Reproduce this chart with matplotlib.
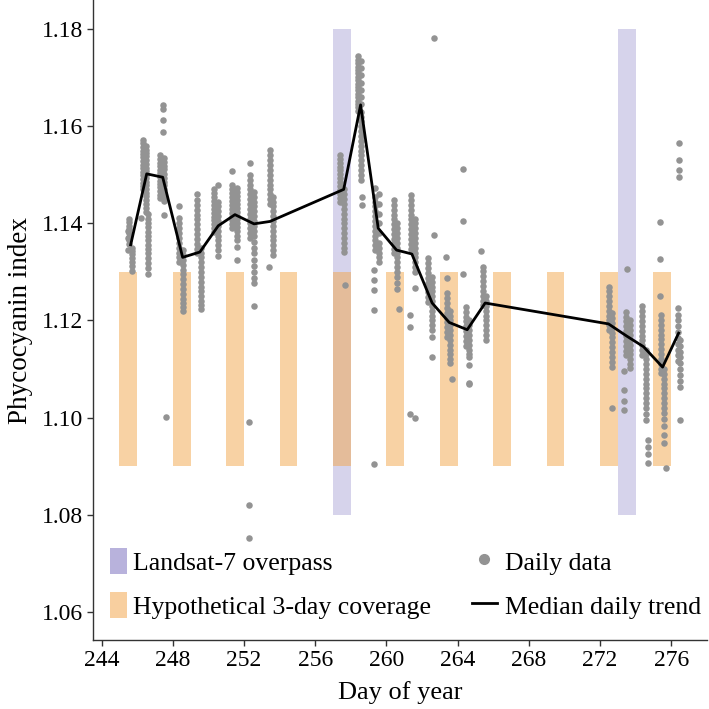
import matplotlib

matplotlib.use("Agg")

import matplotlib.pyplot as plt
from matplotlib.lines import Line2D
from matplotlib.patches import Patch

# median daily trend (day of year, phycocyanin index)
median_doy = [245.63, 246.53, 247.43, 248.55, 249.52, 250.55, 251.49, 252.56, 253.46,
              257.6, 258.55, 259.54, 260.57, 261.43, 262.57, 263.53, 264.54, 265.55,
              272.48, 273.5, 274.45, 275.52, 276.42]
median_pci = [1.1356, 1.1502, 1.1495, 1.1330, 1.1341, 1.1395, 1.1418, 1.1399, 1.1404,
              1.1470, 1.1644, 1.1390, 1.1345, 1.1337, 1.1236, 1.1196, 1.1181, 1.1236,
              1.1193, 1.1168, 1.1146, 1.1104, 1.1174]

# satellite coverage windows (start day, 1 day wide)
landsat_days = [257, 273]
landsat_range = (1.08, 1.18)
coverage_days = [245, 248, 251, 254, 257, 260, 263, 266, 269, 272, 275]
coverage_range = (1.09, 1.13)

# daily observations, grouped by day as (doy, [values])
day_245 = [
    (245.55, [1.1410, 1.1402, 1.1395, 1.1388, 1.1380, 1.1372, 1.1365, 1.1357]),
    (245.68, [1.1350, 1.1343, 1.1336, 1.1328, 1.1320, 1.1312, 1.1302]),
    (245.5, [1.1385, 1.1370, 1.1345]),
]
day_246 = [
    (246.3, [1.1572, 1.1565, 1.1558, 1.1550, 1.1543, 1.1536, 1.1528, 1.1521, 1.1514,
             1.1506, 1.1499, 1.1492, 1.1484, 1.1477, 1.1470]),
    (246.48, [1.1560, 1.1552, 1.1545, 1.1538, 1.1530, 1.1522, 1.1515, 1.1508, 1.1500,
              1.1493, 1.1486, 1.1478, 1.1470, 1.1463, 1.1456, 1.1448, 1.1440, 1.1432, 1.1424]),
    (246.6, [1.1420, 1.1410, 1.1400, 1.1392, 1.1383, 1.1374, 1.1365, 1.1356, 1.1347,
             1.1338, 1.1328, 1.1318, 1.1308, 1.1296]),
    (246.2, [1.1411]),
]
day_247 = [
    (247.42, [1.1644, 1.1636, 1.1613, 1.1589]),
    (247.3, [1.1540, 1.1532, 1.1525, 1.1518, 1.1510, 1.1503, 1.1496, 1.1488, 1.1481,
             1.1474, 1.1466, 1.1459, 1.1452]),
    (247.5, [1.1535, 1.1527, 1.1519, 1.1511, 1.1502, 1.1494, 1.1486, 1.1478, 1.1470,
             1.1462, 1.1455, 1.1447, 1.1418]),
    (247.6, [1.1002]),
]
day_248 = [
    (248.32, [1.1435, 1.1412, 1.1400, 1.1390, 1.1380, 1.1370, 1.1360, 1.1350, 1.1340,
              1.1330, 1.1320]),
    (248.55, [1.1345, 1.1335, 1.1325, 1.1315, 1.1305, 1.1295, 1.1285, 1.1275, 1.1265,
              1.1255, 1.1245, 1.1235, 1.1228, 1.1220]),
]
day_249 = [
    (249.38, [1.1460, 1.1448, 1.1438, 1.1428, 1.1418, 1.1408, 1.1398, 1.1388, 1.1378,
              1.1368, 1.1358, 1.1348, 1.1338]),
    (249.6, [1.1350, 1.1340, 1.1330, 1.1320, 1.1310, 1.1300, 1.1290, 1.1280, 1.1270,
             1.1260, 1.1250, 1.1240, 1.1232, 1.1224]),
]
day_250 = [
    (250.3, [1.1470, 1.1462, 1.1454, 1.1446, 1.1438, 1.1430, 1.1422, 1.1414, 1.1406,
             1.1398, 1.1390, 1.1382]),
    (250.52, [1.1479, 1.1445, 1.1435, 1.1425, 1.1415, 1.1405, 1.1395, 1.1385, 1.1375,
              1.1365, 1.1355, 1.1345, 1.1332]),
]
day_251 = [
    (251.3, [1.1507]),
    (251.35, [1.1478, 1.1470, 1.1462, 1.1454, 1.1446, 1.1438, 1.1430, 1.1422, 1.1414,
              1.1406, 1.1398, 1.1390]),
    (251.58, [1.1472, 1.1464, 1.1456, 1.1448, 1.1440, 1.1432, 1.1424, 1.1416, 1.1408,
              1.1400, 1.1392, 1.1384, 1.1375, 1.1365, 1.1352, 1.1325]),
]
day_252 = [
    (252.35, [1.1524, 1.1500, 1.1490, 1.1480, 1.1470, 1.1460, 1.1450, 1.1440, 1.1430,
              1.1420, 1.1410, 1.1400, 1.1390, 1.1380, 1.1370]),
    (252.55, [1.1465, 1.1455, 1.1445, 1.1435, 1.1425, 1.1415, 1.1405, 1.1395, 1.1385,
              1.1375, 1.1362, 1.1350, 1.1338, 1.1325, 1.1312, 1.1300, 1.1288, 1.1277, 1.1230]),
    (252.3, [1.0990, 1.0820, 1.0752]),
]
day_253 = [
    (253.45, [1.1551, 1.1540, 1.1530, 1.1520, 1.1510, 1.1500, 1.1490, 1.1480, 1.1470,
              1.1460, 1.1450, 1.1440]),
    (253.65, [1.1455, 1.1445, 1.1435, 1.1425, 1.1415, 1.1405, 1.1395, 1.1385, 1.1375,
              1.1365, 1.1355, 1.1345, 1.1335]),
    (253.4, [1.1311]),
]
day_257 = [
    (257.4, [1.1541, 1.1533, 1.1525, 1.1517, 1.1509, 1.1501, 1.1493, 1.1485, 1.1477,
             1.1469, 1.1461, 1.1453, 1.1445]),
    (257.6, [1.1470, 1.1460, 1.1450, 1.1440, 1.1430, 1.1420, 1.1410, 1.1400, 1.1390,
             1.1380, 1.1370, 1.1360, 1.1350, 1.1342]),
    (257.65, [1.1273]),
]
day_258 = [
    (258.42, [1.1744, 1.1737, 1.1730, 1.1723, 1.1716, 1.1709, 1.1702, 1.1695, 1.1688,
              1.1681, 1.1674, 1.1667, 1.1660, 1.1653, 1.1646, 1.1639, 1.1632]),
    (258.58, [1.1735, 1.1720, 1.1705, 1.1690, 1.1675, 1.1660, 1.1645, 1.1630, 1.1620,
              1.1610, 1.1600, 1.1590, 1.1580, 1.1570, 1.1560, 1.1550, 1.1540, 1.1530,
              1.1520, 1.1510, 1.1500, 1.1490]),
    (258.62, [1.1455, 1.1438]),
]
day_259 = [
    (259.35, [1.1472, 1.1455, 1.1445, 1.1435, 1.1425, 1.1415, 1.1405, 1.1395, 1.1385,
              1.1375, 1.1365, 1.1355, 1.1345]),
    (259.58, [1.1460, 1.1440, 1.1420, 1.1400, 1.1380, 1.1360, 1.1350, 1.1340, 1.1330, 1.1320]),
    (259.3, [1.1304, 1.1284, 1.1263, 1.1222, 1.0905]),
]
day_260 = [
    (260.4, [1.1448, 1.1438, 1.1428, 1.1418, 1.1408, 1.1398, 1.1388, 1.1378, 1.1368,
             1.1358, 1.1348, 1.1338]),
    (260.6, [1.1400, 1.1390, 1.1380, 1.1370, 1.1360, 1.1350, 1.1340, 1.1330, 1.1320,
             1.1310, 1.1300, 1.1290, 1.1278, 1.1265]),
    (260.72, [1.1223]),
]
day_261 = [
    (261.4, [1.1459, 1.1449, 1.1438, 1.1428, 1.1418, 1.1408, 1.1398, 1.1388, 1.1378,
             1.1368, 1.1358, 1.1348]),
    (261.6, [1.1410, 1.1400, 1.1390, 1.1380, 1.1370, 1.1360, 1.1350, 1.1340, 1.1330,
             1.1320, 1.1310, 1.1300, 1.1267]),
    (261.35, [1.1212, 1.1186, 1.1007]),
    (261.6, [1.1000]),
]
day_262 = [
    (262.35, [1.1328, 1.1318, 1.1308, 1.1298, 1.1288, 1.1278, 1.1268, 1.1258, 1.1248, 1.1238]),
    (262.55, [1.1290, 1.1280, 1.1270, 1.1260, 1.1250, 1.1240, 1.1230, 1.1220, 1.1210,
              1.1200, 1.1190, 1.1180, 1.1167, 1.1125]),
    (262.7, [1.1781, 1.1376]),
]
day_263 = [
    (263.4, [1.1287, 1.1256, 1.1246, 1.1236, 1.1226, 1.1216, 1.1206, 1.1196, 1.1186,
             1.1176, 1.1166]),
    (263.6, [1.1220, 1.1210, 1.1200, 1.1190, 1.1180, 1.1170, 1.1160, 1.1150, 1.1140,
             1.1130, 1.1120, 1.1112]),
    (263.7, [1.1079]),
    (263.34, [1.1330]),
]
day_264 = [
    (264.45, [1.1228, 1.1218, 1.1208, 1.1198, 1.1188, 1.1178, 1.1168, 1.1158, 1.1148]),
    (264.62, [1.1200, 1.1190, 1.1180, 1.1170, 1.1160, 1.1150, 1.1140, 1.1130, 1.1125, 1.1108]),
    (264.65, [1.1072, 1.1069]),
    (264.31, [1.1512, 1.1404, 1.1296]),
]
day_265 = [
    (265.4, [1.1311, 1.1301, 1.1291, 1.1281, 1.1271, 1.1261, 1.1251, 1.1241, 1.1231]),
    (265.58, [1.1250, 1.1240, 1.1230, 1.1220, 1.1210, 1.1200, 1.1190, 1.1180, 1.1170, 1.1160]),
    (265.31, [1.1344]),
]
day_272 = [
    (272.5, [1.1270, 1.1260, 1.1250, 1.1240, 1.1230, 1.1220, 1.1210, 1.1200, 1.1190, 1.1180]),
    (272.66, [1.1215, 1.1205, 1.1195, 1.1185, 1.1175, 1.1165, 1.1155, 1.1145, 1.1135,
              1.1125, 1.1115, 1.1105]),
    (272.69, [1.1019]),
]
day_273 = [
    (273.5, [1.1306]),
    (273.48, [1.1218, 1.1208, 1.1198, 1.1188, 1.1178, 1.1168, 1.1158, 1.1148, 1.1138, 1.1128]),
    (273.68, [1.1200, 1.1190, 1.1180, 1.1170, 1.1160, 1.1150, 1.1140, 1.1130, 1.1120,
              1.1110, 1.1102]),
    (273.35, [1.1095, 1.1056, 1.1035, 1.1016]),
]
day_274 = [
    (274.38, [1.1229, 1.1219, 1.1209, 1.1199, 1.1189, 1.1179, 1.1169, 1.1159, 1.1149,
              1.1139, 1.1129]),
    (274.58, [1.1140, 1.1130, 1.1120, 1.1110, 1.1100, 1.1090, 1.1080, 1.1070, 1.1060,
              1.1050, 1.1040, 1.1030, 1.1020, 1.1008, 1.0995]),
    (274.7, [1.0954, 1.0940, 1.0926, 1.0906]),
]
day_275 = [
    (275.37, [1.1402, 1.1326, 1.1251]),
    (275.42, [1.1212, 1.1201, 1.1191, 1.1181, 1.1171, 1.1161, 1.1151, 1.1141, 1.1131,
              1.1121, 1.1111, 1.1101, 1.1091]),
    (275.62, [1.1100, 1.1090, 1.1080, 1.1070, 1.1060, 1.1050, 1.1040, 1.1030, 1.1020,
              1.1010, 1.0998, 1.0982, 1.0965, 1.0947]),
    (275.7, [1.0896]),
]
day_276 = [
    (276.45, [1.1565, 1.1531, 1.1510, 1.1496]),
    (276.36, [1.1225, 1.1212, 1.1200, 1.1188, 1.1176, 1.1164, 1.1152, 1.1140, 1.1128, 1.1116]),
    (276.52, [1.1160, 1.1148, 1.1136, 1.1124, 1.1112, 1.1100, 1.1088, 1.1076, 1.1064, 1.0995]),
]

daily_groups = [day_245, day_246, day_247, day_248, day_249, day_250, day_251, day_252,
                day_253, day_257, day_258, day_259, day_260, day_261, day_262, day_263,
                day_264, day_265, day_272, day_273, day_274, day_275, day_276]

PURPLE = "#8e86c8"
ORANGE = "#f3a64a"
GREY = "#939393"

plt.rcParams["font.family"] = ["Liberation Serif", "DejaVu Serif"]

fig = plt.figure(figsize=(7.09, 7.09), dpi=100)
ax = fig.add_axes([0.1316, 0.0973, 0.8652, 0.9027])

ax.bar(landsat_days, landsat_range[1] - landsat_range[0], bottom=landsat_range[0],
       width=1.0, align="edge", color=PURPLE, alpha=0.36, linewidth=0, zorder=1)
ax.bar(coverage_days, coverage_range[1] - coverage_range[0], bottom=coverage_range[0],
       width=1.0, align="edge", color=ORANGE, alpha=0.5, linewidth=0, zorder=2)

xs, ys = [], []
for group in daily_groups:
    for doy, values in group:
        xs.extend([doy] * len(values))
        ys.extend(values)
ax.scatter(xs, ys, s=22, color=GREY, linewidths=0, zorder=3)

ax.plot(median_doy, median_pci, color="black", linewidth=2.0, zorder=4)

ax.set_xlim(243.53, 278.0)
ax.set_ylim(1.0542, 1.186)
ax.set_xticks(range(244, 277, 4))
ax.set_yticks([1.06, 1.08, 1.10, 1.12, 1.14, 1.16, 1.18])
ax.set_yticklabels(["1.06", "1.08", "1.10", "1.12", "1.14", "1.16", "1.18"])
for side in ["top", "right"]:
    ax.spines[side].set_visible(False)
for side in ["left", "bottom"]:
    ax.spines[side].set_color("#333333")
    ax.spines[side].set_linewidth(1.0)
ax.tick_params(axis="both", labelsize=17, colors="#333333", labelcolor="black",
               length=4, width=1.0)

ax.set_xlabel("Day of year", fontsize=19, labelpad=7)
ax.set_ylabel("Phycocyanin index", fontsize=19.5, labelpad=6)

# legend: band keys on the left, point/line keys on the right
band_handles = [
    Patch(facecolor="#b8b2dc", edgecolor="none", label="Landsat-7 overpass"),
    Patch(facecolor="#f8cf9f", edgecolor="none", label="Hypothetical 3-day coverage"),
]
mark_handles = [
    Line2D([], [], marker="o", linestyle="none", color=GREY, markersize=7, label="Daily data"),
    Line2D([], [], color="black", linewidth=2.0, label="Median daily trend"),
]
common = dict(frameon=False, fontsize=18.5, handleheight=1.17, labelspacing=0.68,
              borderpad=0, borderaxespad=0, loc="upper left", bbox_transform=fig.transFigure)
leg1 = ax.legend(handles=band_handles, handlelength=0.68, handletextpad=0.2,
                 bbox_to_anchor=(110 / 709, 1 - 548 / 709), **common)
ax.add_artist(leg1)
ax.legend(handles=mark_handles, handlelength=0.97, handletextpad=0.3,
          bbox_to_anchor=(472 / 709, 1 - 548 / 709), **common)

fig.savefig("out.png", dpi=100)
